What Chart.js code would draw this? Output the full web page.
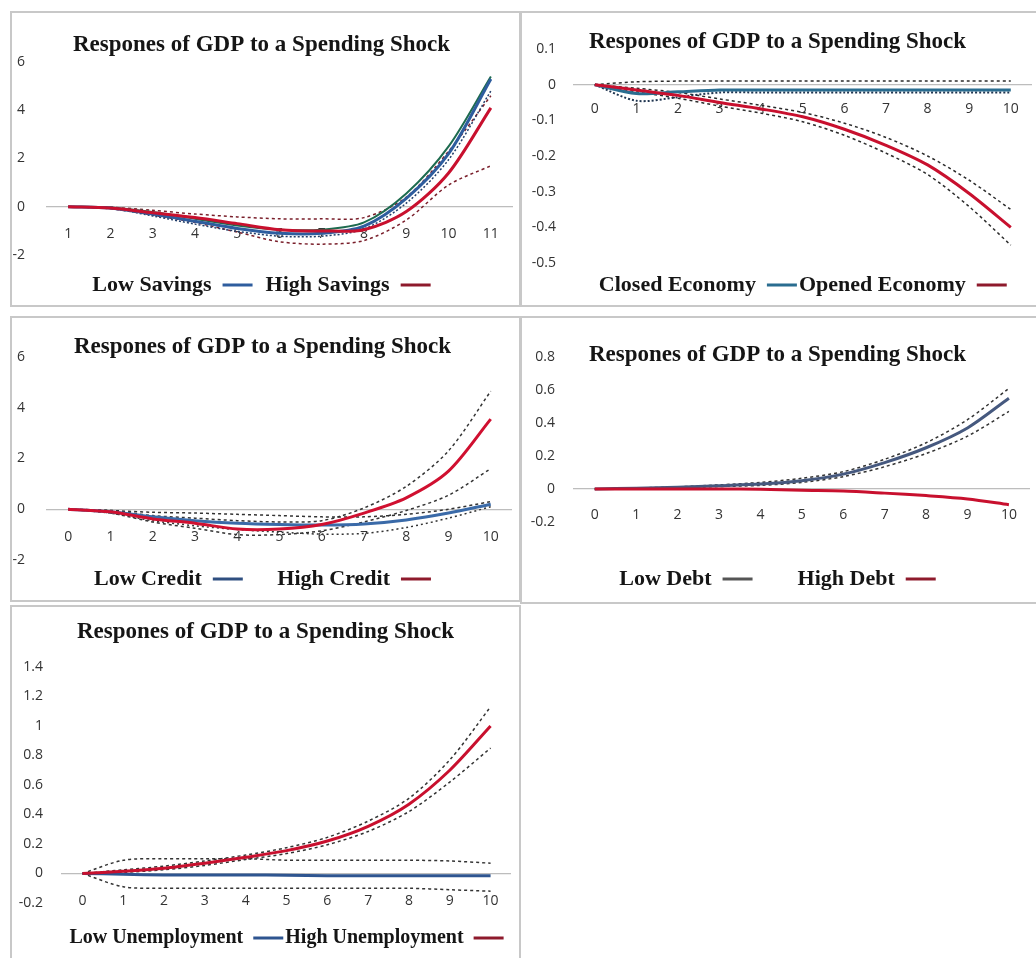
<!DOCTYPE html>
<html><head><meta charset="utf-8">
<script src="https://cdn.jsdelivr.net/npm/chart.js@4.4.1/dist/chart.umd.min.js"></script>
<style>
html,body{margin:0;padding:0;background:#fff;width:1036px;height:958px;overflow:hidden;position:relative;}
.frame{position:absolute;box-sizing:border-box;border:2px solid #c8c8c8;}
canvas{position:absolute;}
</style></head><body>
<div class="frame" style="left:10px;top:11px;width:511px;height:296px"></div>
<div class="frame" style="left:520px;top:11px;width:520px;height:296px"></div>
<div class="frame" style="left:10px;top:316px;width:511px;height:286px"></div>
<div class="frame" style="left:520px;top:316px;width:520px;height:288px"></div>
<div class="frame" style="left:10px;top:605px;width:511px;height:400px"></div>
<script>
// ---------- data ----------
const chartTitle = 'Respones of GDP to a Spending Shock';
const savingsHorizon = ['1','2','3','4','5','6','7','8','9','10','11'];
const horizon = ['0','1','2','3','4','5','6','7','8','9','10'];

// Panel 1: savings
const savingsYTicks = [-2, 0, 2, 4, 6];
const lowSavings       = [0, -0.05, -0.3, -0.6, -0.9, -1.1, -1.1, -0.8, 0.35, 2.2, 5.3];
const lowSavingsUpper  = [0, -0.03, -0.22, -0.5, -0.78, -0.95, -0.95, -0.65, 0.55, 2.5, 5.4];
const lowSavingsLower  = [0, -0.07, -0.38, -0.72, -1.02, -1.22, -1.22, -0.92, 0.15, 1.95, 4.8];
const highSavings      = [0, -0.05, -0.25, -0.45, -0.7, -0.95, -1.0, -0.95, -0.2, 1.4, 4.1];
const highSavingsUpper = [0, -0.02, -0.15, -0.3, -0.42, -0.5, -0.5, -0.45, 0.4, 2.3, 4.6];
const highSavingsLower = [0, -0.08, -0.35, -0.65, -1.05, -1.45, -1.55, -1.4, -0.55, 0.9, 1.7];

// Panel 2: economy openness
const economyYTicks = [-0.5, -0.4, -0.3, -0.2, -0.1, 0, 0.1];
const closedEconomy      = [0, -0.025, -0.02, -0.015, -0.015, -0.015, -0.015, -0.015, -0.015, -0.015, -0.015];
const closedEconomyUpper = [0, 0.008, 0.01, 0.01, 0.01, 0.01, 0.01, 0.01, 0.01, 0.01, 0.01];
const closedEconomyLower = [0, -0.045, -0.035, -0.022, -0.022, -0.022, -0.022, -0.022, -0.022, -0.022, -0.022];
const openedEconomy      = [0, -0.015, -0.03, -0.05, -0.068, -0.09, -0.125, -0.17, -0.225, -0.305, -0.4];
const openedEconomyUpper = [0, -0.01, -0.022, -0.04, -0.058, -0.078, -0.108, -0.148, -0.2, -0.268, -0.35];
const openedEconomyLower = [0, -0.02, -0.038, -0.06, -0.08, -0.104, -0.142, -0.192, -0.252, -0.342, -0.45];

// Panel 3: credit
const creditYTicks = [-2, 0, 2, 4, 6];
const lowCredit       = [0, -0.1, -0.3, -0.45, -0.55, -0.6, -0.62, -0.58, -0.42, -0.15, 0.2];
const lowCreditUpper  = [0, -0.05, -0.12, -0.15, -0.2, -0.25, -0.3, -0.3, -0.2, 0.0, 0.3];
const lowCreditLower  = [0, -0.15, -0.45, -0.65, -0.8, -0.9, -0.98, -0.95, -0.72, -0.35, 0.1];
const highCredit      = [0, -0.1, -0.38, -0.55, -0.78, -0.78, -0.6, -0.15, 0.45, 1.5, 3.55];
const highCreditUpper = [0, -0.05, -0.25, -0.35, -0.45, -0.5, -0.45, 0.05, 0.9, 2.3, 4.65];
const highCreditLower = [0, -0.15, -0.5, -0.75, -1.0, -1.0, -0.85, -0.5, -0.05, 0.55, 1.6];

// Panel 4: debt
const debtYTicks = [-0.2, 0, 0.2, 0.4, 0.6, 0.8];
const lowDebt      = [0, 0.005, 0.01, 0.02, 0.03, 0.05, 0.09, 0.16, 0.25, 0.37, 0.55];
const lowDebtUpper = [0, 0.006, 0.013, 0.025, 0.04, 0.065, 0.105, 0.18, 0.28, 0.42, 0.61];
const lowDebtLower = [0, 0.004, 0.008, 0.015, 0.022, 0.04, 0.075, 0.135, 0.215, 0.32, 0.47];
const highDebt     = [0, 0, 0, 0, -0.002, -0.008, -0.012, -0.025, -0.04, -0.06, -0.095];

// Panel 5: unemployment
const unempYTicks = [-0.2, 0, 0.2, 0.4, 0.6, 0.8, 1, 1.2, 1.4];
const lowUnemp       = [0, -0.005, -0.01, -0.01, -0.01, -0.012, -0.015, -0.015, -0.015, -0.015, -0.015];
const lowUnempUpper  = [0, 0.09, 0.1, 0.1, 0.1, 0.09, 0.09, 0.09, 0.09, 0.085, 0.07];
const lowUnempLower  = [0, -0.09, -0.1, -0.1, -0.1, -0.1, -0.1, -0.1, -0.1, -0.11, -0.12];
const highUnemp      = [0, 0.015, 0.035, 0.07, 0.11, 0.155, 0.22, 0.32, 0.47, 0.7, 1.0];
const highUnempUpper = [0, 0.025, 0.05, 0.085, 0.125, 0.175, 0.245, 0.355, 0.51, 0.77, 1.13];
const highUnempLower = [0, 0.008, 0.025, 0.055, 0.095, 0.135, 0.195, 0.285, 0.42, 0.62, 0.85];

// ---------- styling helpers ----------
const SERIF = '"Liberation Serif", "Times New Roman", serif';
const SANS = '"Open Sans", "Liberation Sans", sans-serif';

function mean(label, data, color, legendColor, order) {
  return { label, data, isMean: true, borderColor: color, borderWidth: 3,
    pointBorderColor: legendColor, pointBorderWidth: 3, pointRadius: 0, pointHoverRadius: 0,
    tension: 0.3, order };
}
function band(data, color, dash, width) {
  return { label: '', data, isMean: false, borderColor: color, borderWidth: width || 1.5,
    borderDash: dash, pointRadius: 0, pointHoverRadius: 0, tension: 0.3, order: 2 };
}

function buildPanel(p) {
  const canvas = document.createElement('canvas');
  canvas.width = p.w; canvas.height = p.h;
  canvas.style.left = p.x + 'px'; canvas.style.top = p.y + 'px';
  document.body.appendChild(canvas);

  const titleSize = 23;
  const titleTop = p.titleY - p.y - titleSize / 2;
  const titleBottom = (p.plotTop - p.y) - titleTop - titleSize;
  const lf = p.legendFont || 22;
  const gap = p.legendGap;
  const legTitlePad = p.legendY - p.plotBottom - gap - lf / 2 - 1;
  const legendHeight = 1 + legTitlePad + lf + gap + 10;
  const avail = (p.y + p.h) - p.plotBottom;
  const xh = Math.max(0, avail - legendHeight);
  const yw = p.plotLeft - p.x;
  const tickLH = 14;

  new Chart(canvas, {
    type: 'line',
    data: { labels: p.labels, datasets: p.datasets },
    options: {
      responsive: false, animation: false, devicePixelRatio: 1, events: [],
      layout: { padding: { left: 0, top: 0, bottom: 0, right: (p.x + p.w) - p.plotRight } },
      plugins: {
        tooltip: { enabled: false },
        title: { display: true, text: chartTitle, color: '#151515',
          font: { family: SERIF, size: titleSize, weight: 'bold', lineHeight: 1 },
          padding: { top: titleTop, bottom: titleBottom } },
        legend: {
          display: true, position: 'bottom', rtl: true, textDirection: 'ltr',
          fullSize: p.legendFull !== false,
          title: { display: true, text: '', font: { size: 1, lineHeight: 1 }, padding: { top: legTitlePad, bottom: 0 } },
          labels: {
            usePointStyle: true, pointStyle: 'line', pointStyleWidth: 30,
            padding: gap, color: '#151515',
            font: { family: SERIF, size: lf, weight: 'bold', lineHeight: 1 },
            filter: (item, data) => data.datasets[item.datasetIndex].isMean,
            generateLabels: (chart) => {
              const items = Chart.defaults.plugins.legend.labels.generateLabels(chart);
              items.forEach(it => { const pre = p.labelPrefix && p.labelPrefix[it.datasetIndex]; if (pre) it.text = pre + it.text; });
              return items;
            }
          }
        }
      },
      scales: {
        x: {
          type: 'category', offset: true, position: { y: 0 },
          afterFit: (s) => { s.height = xh; },
          grid: { display: true, color: 'rgba(0,0,0,0)', drawTicks: false },
          border: { display: true, color: '#bdbdbd', width: 1.2 },
          ticks: { color: '#333', padding: p.xLabelOffset - tickLH / 2, maxRotation: 0, autoSkip: false,
            font: { family: SANS, size: 14, lineHeight: 1 } }
        },
        y: {
          type: 'linear', position: 'left',
          min: p.yTicks[0], max: p.yTicks[p.yTicks.length - 1],
          afterBuildTicks: (s) => { s.ticks = p.yTicks.map(v => ({ value: v })); },
          afterFit: (s) => { s.width = yw; },
          grid: { display: false, drawTicks: false },
          border: { display: false },
          ticks: { color: '#333', padding: p.plotLeft - p.yLabelRight,
            font: { family: SANS, size: 14, lineHeight: 1 },
            callback: (v) => String(v) }
        }
      }
    }
  });
}

const RED = '#c8102e', RED_LEG = '#8e1a2c';

buildPanel({
  x: 11, y: 11, w: 509, h: 295, labels: savingsHorizon, yTicks: savingsYTicks,
  titleY: 45, plotTop: 62, plotBottom: 247, plotLeft: 47, plotRight: 512,
  legendY: 277, yLabelRight: 25, xLabelOffset: 27, legendGap: 13,
  datasets: [
    mean('High Savings', highSavings, RED, RED_LEG, 0),
    mean('Low Savings', lowSavings, '#2e5d9e', '#2e5d9e', 1),
    band(lowSavingsUpper, '#1d6b4f', [], 2),
    band(lowSavingsLower, '#223f6b', [2, 2]),
    band(highSavingsUpper, '#7a1f2b', [3, 3]),
    band(highSavingsLower, '#7a1f2b', [3, 3])
  ]
});

buildPanel({
  x: 521, y: 11, w: 515, h: 295, labels: horizon, yTicks: economyYTicks,
  titleY: 42, plotTop: 49, plotBottom: 257, plotLeft: 574, plotRight: 1034,
  legendY: 279, yLabelRight: 556, xLabelOffset: 24, legendGap: 2, legendFull: false,
  datasets: [
    mean('Opened Economy', openedEconomy, RED, RED_LEG, 0),
    mean('Closed Economy', closedEconomy, '#2a6d90', '#2a6d90', 1),
    band(closedEconomyUpper, '#2b2b2b', [3, 3]),
    band(closedEconomyLower, '#1f3550', [2, 2], 2),
    band(openedEconomyUpper, '#2b2b2b', [3, 3]),
    band(openedEconomyLower, '#2b2b2b', [3, 3])
  ]
});

buildPanel({
  x: 11, y: 317, w: 509, h: 283, labels: horizon, yTicks: creditYTicks,
  titleY: 347, plotTop: 357, plotBottom: 553, plotLeft: 47, plotRight: 514,
  legendY: 572, yLabelRight: 25, xLabelOffset: 28, legendGap: 7,
  labelPrefix: { 0: '     ' },
  datasets: [
    mean('High Credit', highCredit, '#d01030', RED_LEG, 0),
    mean('Low Credit', lowCredit, '#3a6aa8', '#2f4f80', 1),
    band(lowCreditUpper, '#333', [3, 3]),
    band(lowCreditLower, '#333', [2, 3]),
    band(highCreditUpper, '#333', [3, 3]),
    band(highCreditLower, '#333', [3, 3])
  ]
});

buildPanel({
  x: 521, y: 317, w: 515, h: 283, labels: horizon, yTicks: debtYTicks,
  titleY: 355, plotTop: 357, plotBottom: 518, plotLeft: 574, plotRight: 1034,
  legendY: 575, yLabelRight: 555, xLabelOffset: 26, legendGap: 45,
  datasets: [
    mean('High Debt', highDebt, RED, RED_LEG, 0),
    mean('Low Debt', lowDebt, '#46597f', '#555555', 1),
    band(lowDebtUpper, '#333', [3, 3]),
    band(lowDebtLower, '#333', [3, 3])
  ]
});

buildPanel({
  x: 11, y: 607, w: 509, h: 351, labels: horizon, yTicks: unempYTicks,
  titleY: 632, plotTop: 667, plotBottom: 903, plotLeft: 62, plotRight: 520,
  legendY: 938, yLabelRight: 43, xLabelOffset: 28, legendGap: 2, legendFont: 20, legendFull: false,
  datasets: [
    mean('High Unemployment', highUnemp, RED, RED_LEG, 0),
    mean('Low Unemployment', lowUnemp, '#2e5590', '#2e5590', 1),
    band(lowUnempUpper, '#333', [3, 3]),
    band(lowUnempLower, '#333', [3, 3]),
    band(highUnempUpper, '#333', [3, 3]),
    band(highUnempLower, '#333', [3, 3])
  ]
});
</script>
</body></html>
